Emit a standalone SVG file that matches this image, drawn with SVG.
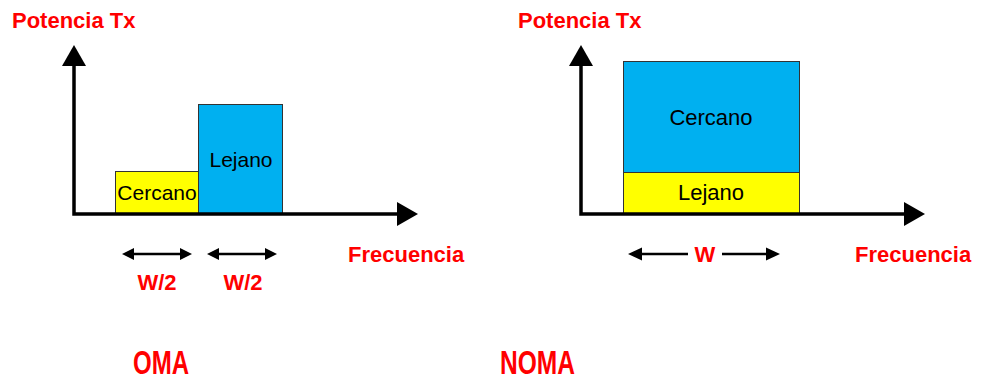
<svg xmlns="http://www.w3.org/2000/svg" width="984" height="380" viewBox="0 0 984 380">
<style>
.axis{stroke:#000;stroke-width:3.5;fill:none}
.head{fill:#000}
.red{font-family:"Liberation Sans",Arial,sans-serif;font-weight:bold;fill:#ff0000;font-size:22px}
.big{font-family:"Liberation Sans",Arial,sans-serif;font-weight:bold;fill:#ff0000;font-size:33px}
.lbl{font-family:"Liberation Sans",Arial,sans-serif;fill:#000;font-size:21px;text-anchor:middle}
.bar{stroke:#333;stroke-width:1}
.dim{stroke:#000;stroke-width:2.5;fill:none}
</style>
<rect width="984" height="380" fill="#fff"/>

<g id="oma-bars">
  <g id="oma-cercano">
    <rect class="bar" x="115.5" y="171.5" width="83" height="43" fill="#ffff00"/>
    <text class="lbl" x="157" y="200">Cercano</text>
  </g>
  <g id="oma-lejano">
    <rect class="bar" x="198.5" y="104.5" width="84" height="110" fill="#00b0f0"/>
    <text class="lbl" x="241" y="167">Lejano</text>
  </g>
</g>

<g id="noma-bars">
  <g id="noma-cercano">
    <rect class="bar" x="623.5" y="61.5" width="176" height="111" fill="#00b0f0"/>
    <text class="lbl" x="711" y="125" style="font-size:22px">Cercano</text>
  </g>
  <g id="noma-lejano">
    <rect class="bar" x="623.5" y="172.5" width="176" height="42" fill="#ffff00"/>
    <text class="lbl" x="711" y="200" style="font-size:22px">Lejano</text>
  </g>
</g>

<g id="connectors">
  <!-- OMA axes -->
  <polyline class="axis" points="74,64 74,214 400,214"/>
  <polygon class="head" points="74,45 62,66 86,66"/>
  <polygon class="head" points="418,214 397,202 397,226"/>
  <!-- NOMA axes -->
  <polyline class="axis" points="581,64 581,214 906,214"/>
  <polygon class="head" points="581,45 569,66 593,66"/>
  <polygon class="head" points="925,214 904,202 904,226"/>
  <!-- OMA W/2 arrows -->
  <line class="dim" x1="130" y1="254" x2="184" y2="254"/>
  <polygon class="head" points="122,254 134,248 134,260"/>
  <polygon class="head" points="192,254 180,248 180,260"/>
  <line class="dim" x1="215" y1="254" x2="269" y2="254"/>
  <polygon class="head" points="207,254 219,248 219,260"/>
  <polygon class="head" points="277,254 265,248 265,260"/>
  <!-- NOMA W arrows -->
  <line class="dim" x1="636" y1="254" x2="688" y2="254"/>
  <polygon class="head" points="628,254 642,247.5 642,260.5"/>
  <line class="dim" x1="722" y1="254" x2="772" y2="254"/>
  <polygon class="head" points="780,254 766,247.5 766,260.5"/>
</g>

<g id="labels">
  <text class="red" x="12" y="28">Potencia Tx</text>
  <text class="red" x="518" y="28">Potencia Tx</text>
  <text class="red" x="348" y="262">Frecuencia</text>
  <text class="red" x="855" y="262">Frecuencia</text>
  <text class="red" x="157" y="290" text-anchor="middle">W/2</text>
  <text class="red" x="243" y="290" text-anchor="middle">W/2</text>
  <text class="red" x="705" y="262" text-anchor="middle">W</text>
  <text class="big" x="133" y="374" textLength="56" lengthAdjust="spacingAndGlyphs">OMA</text>
  <text class="big" x="500" y="374" textLength="75" lengthAdjust="spacingAndGlyphs">NOMA</text>
</g>
</svg>
